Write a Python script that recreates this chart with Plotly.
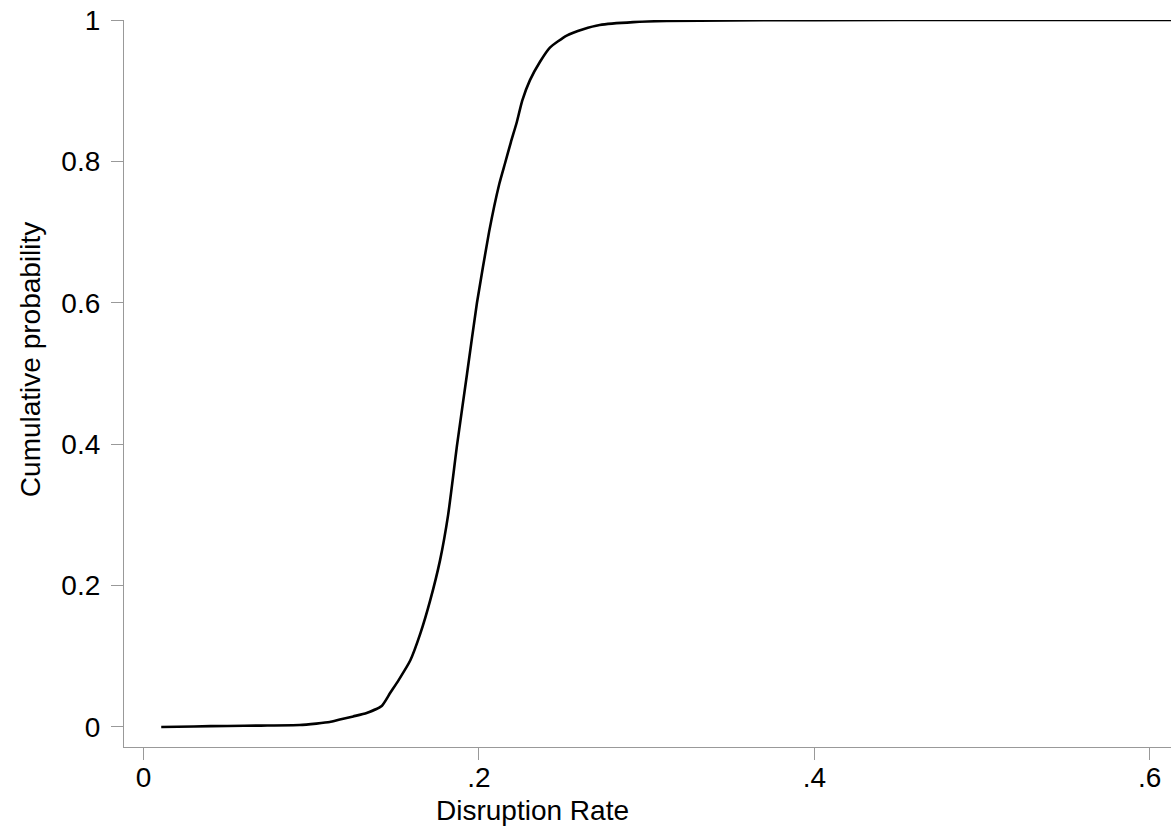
import plotly.graph_objects as go

# Empirical cumulative distribution of the disruption rate
disruption_rate = [
    0.0105, 0.03, 0.05, 0.07, 0.093, 0.103, 0.111, 0.117, 0.125, 0.133,
    0.142, 0.147, 0.152, 0.159, 0.165, 0.1709, 0.1768, 0.1816, 0.187,
    0.1929, 0.1988, 0.206, 0.2121, 0.2155, 0.219, 0.2225, 0.2258, 0.2304,
    0.2364, 0.2423, 0.2523, 0.2622, 0.272, 0.292, 0.312, 0.35, 0.4, 0.5, 0.62,
]
cumulative_prob = [
    0.0, 0.0008, 0.0015, 0.002, 0.0028, 0.0048, 0.007, 0.0105, 0.015, 0.0198,
    0.0297, 0.048, 0.066, 0.094, 0.132, 0.179, 0.236, 0.3, 0.4,
    0.5, 0.6, 0.7, 0.768, 0.797, 0.827, 0.855, 0.886, 0.915,
    0.941, 0.961, 0.978, 0.987, 0.993, 0.997, 0.9986, 0.9995, 0.9998, 1.0, 1.0,
]

x_tickvals = [0, 0.2, 0.4, 0.6]
x_ticktext = ["0", ".2", ".4", ".6"]
y_tickvals = [0, 0.2, 0.4, 0.6, 0.8, 1.0]
y_ticktext = ["0", "0.2", "0.4", "0.6", "0.8", "1"]

FONT = "Liberation Sans, Arial, sans-serif"
AXIS_GRAY = "#999999"

fig = go.Figure()
fig.add_trace(go.Scatter(
    x=disruption_rate, y=cumulative_prob, mode="lines",
    line=dict(color="black", width=2.6, shape="spline", smoothing=0.5),
    showlegend=False,
))

fig.update_layout(
    width=1171, height=834,
    margin=dict(l=124, r=0, t=20, b=87),
    paper_bgcolor="white", plot_bgcolor="white",
    font=dict(family=FONT, size=28, color="black"),
    xaxis=dict(
        range=[-0.0117, 0.6127], tickvals=x_tickvals, ticktext=x_ticktext,
        showline=True, linecolor=AXIS_GRAY, linewidth=1.3,
        ticks="outside", ticklen=12, tickcolor=AXIS_GRAY, tickwidth=1.3,
        showgrid=False, zeroline=False, ticklabelstandoff=-7,
    ),
    yaxis=dict(
        range=[-0.0283, 1.0], tickvals=y_tickvals, ticktext=y_ticktext,
        showline=True, linecolor=AXIS_GRAY, linewidth=1.3,
        ticks="outside", ticklen=12, tickcolor=AXIS_GRAY, tickwidth=1.3,
        showgrid=False, zeroline=False, ticklabelstandoff=5,
    ),
    annotations=[
        dict(text="Disruption Rate", xref="paper", yref="paper",
             x=(532 - 124) / 1047, y=-(810 - 746.7) / 726.7,
             xanchor="center", yanchor="middle", showarrow=False,
             font=dict(family=FONT, size=28)),
        dict(text="Cumulative probability", xref="paper", yref="paper",
             x=-(124 - 30) / 1047, y=(746.7 - 360) / 726.7, textangle=-90,
             xanchor="center", yanchor="middle", showarrow=False,
             font=dict(family=FONT, size=28)),
    ],
)

fig.write_html("out.html")
